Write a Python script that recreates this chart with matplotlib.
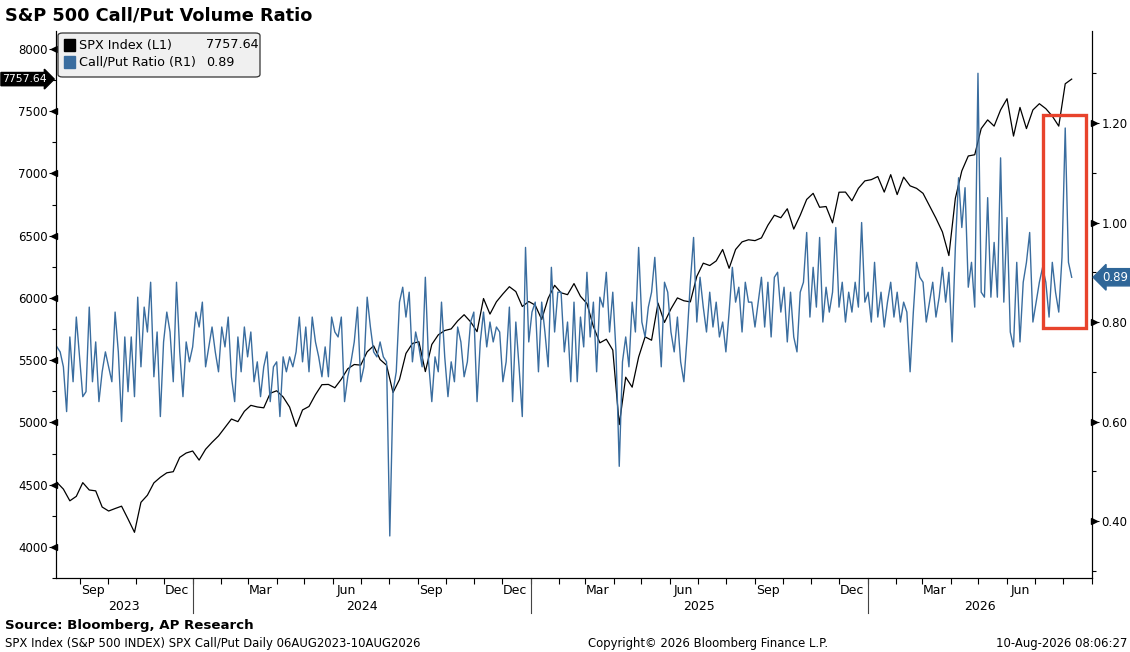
import matplotlib
matplotlib.use("Agg")
import matplotlib.pyplot as plt
import matplotlib.dates as mdates
import pandas as pd
from matplotlib.patches import Rectangle, FancyBboxPatch

# weekly SPX levels (Mondays), 07AUG2023 - 10AUG2026
spx_dates = pd.date_range("2023-08-07", "2026-08-10", freq="7D")
spx = [
    4518, 4464, 4370, 4406, 4516, 4457, 4450, 4320, 4288, 4308,
    4327, 4224, 4117, 4358, 4415, 4514, 4559, 4595, 4604, 4719,
    4754, 4770, 4697, 4784, 4840, 4891, 4959, 5027, 5006, 5089,
    5137, 5124, 5117, 5234, 5254, 5204, 5123, 4967, 5100, 5128,
    5223, 5303, 5305, 5278, 5347, 5431, 5465, 5460, 5567, 5615,
    5505, 5459, 5240, 5344, 5554, 5634, 5648, 5408, 5626, 5703,
    5738, 5751, 5815, 5865, 5808, 5729, 5995, 5870, 5969, 6032,
    6090, 6051, 5931, 5971, 5942, 5827, 5997, 6101, 6041, 6026,
    6115, 6013, 5955, 5770, 5639, 5668, 5581, 4982, 5363, 5283,
    5525, 5687, 5660, 5958, 5803, 5912, 6000, 5977, 5968, 6173,
    6279, 6260, 6297, 6389, 6238, 6389, 6450, 6467, 6460, 6482,
    6584, 6664, 6644, 6716, 6553, 6664, 6791, 6840, 6728, 6734,
    6603, 6849, 6850, 6780, 6880, 6940, 6950, 6975, 6850, 6990,
    6830, 6970, 6900, 6880, 6840, 6740, 6640, 6530, 6340, 6800,
    7020, 7140, 7150, 7360, 7430, 7380, 7510, 7600, 7300, 7530,
    7360, 7510, 7560, 7520, 7460, 7380, 7720, 7757.64,
]

# call/put volume ratio, twice a week
ratio_dates = pd.date_range("2023-08-07", periods=315, freq="84h")
ratio = [
    0.75, 0.74, 0.71, 0.62, 0.77, 0.68, 0.81, 0.73, 0.65, 0.66,
    0.83, 0.68, 0.76, 0.64, 0.70, 0.74, 0.71, 0.68, 0.82, 0.74,
    0.60, 0.77, 0.66, 0.77, 0.65, 0.85, 0.71, 0.83, 0.78, 0.88,
    0.69, 0.78, 0.61, 0.76, 0.82, 0.78, 0.68, 0.88, 0.74, 0.65,
    0.76, 0.72, 0.75, 0.82, 0.79, 0.84, 0.71, 0.75, 0.79, 0.74,
    0.70, 0.79, 0.75, 0.81, 0.69, 0.64, 0.77, 0.70, 0.79, 0.73,
    0.78, 0.68, 0.72, 0.65, 0.71, 0.74, 0.64, 0.71, 0.72, 0.61,
    0.73, 0.70, 0.73, 0.71, 0.74, 0.81, 0.72, 0.79, 0.70, 0.81,
    0.76, 0.73, 0.69, 0.75, 0.69, 0.81, 0.78, 0.77, 0.81, 0.64,
    0.69, 0.72, 0.76, 0.83, 0.68, 0.71, 0.85, 0.79, 0.74, 0.73,
    0.76, 0.73, 0.72, 0.37, 0.66, 0.70, 0.84, 0.87, 0.81, 0.86,
    0.72, 0.78, 0.75, 0.71, 0.89, 0.72, 0.64, 0.73, 0.70, 0.84,
    0.73, 0.65, 0.72, 0.68, 0.79, 0.76, 0.69, 0.72, 0.80, 0.82,
    0.64, 0.76, 0.82, 0.75, 0.80, 0.76, 0.79, 0.78, 0.68, 0.72,
    0.83, 0.64, 0.80, 0.71, 0.61, 0.95, 0.76, 0.82, 0.84, 0.70,
    0.84, 0.78, 0.71, 0.91, 0.78, 0.86, 0.86, 0.74, 0.80, 0.68,
    0.84, 0.68, 0.81, 0.75, 0.90, 0.77, 0.84, 0.70, 0.85, 0.83,
    0.90, 0.78, 0.86, 0.74, 0.51, 0.72, 0.77, 0.71, 0.84, 0.78,
    0.95, 0.80, 0.77, 0.83, 0.86, 0.93, 0.82, 0.71, 0.88, 0.86,
    0.78, 0.74, 0.81, 0.72, 0.68, 0.77, 0.88, 0.97, 0.80, 0.89,
    0.83, 0.78, 0.86, 0.79, 0.84, 0.77, 0.80, 0.74, 0.82, 0.91,
    0.84, 0.87, 0.78, 0.88, 0.84, 0.84, 0.79, 0.84, 0.89, 0.79,
    0.88, 0.77, 0.89, 0.90, 0.82, 0.87, 0.76, 0.86, 0.77, 0.74,
    0.86, 0.88, 0.98, 0.81, 0.91, 0.83, 0.97, 0.80, 0.87, 0.82,
    0.86, 0.99, 0.83, 0.88, 0.80, 0.86, 0.82, 0.88, 0.83, 1.00,
    0.84, 0.86, 0.80, 0.92, 0.81, 0.86, 0.79, 0.84, 0.88, 0.81,
    0.86, 0.80, 0.84, 0.82, 0.70, 0.82, 0.92, 0.89, 0.88, 0.80,
    0.84, 0.88, 0.81, 0.85, 0.91, 0.84, 0.90, 0.76, 0.95, 1.09,
    0.99, 1.07, 0.87, 0.92, 0.83, 1.30, 0.86, 0.85, 1.05, 0.85,
    0.96, 0.85, 1.13, 0.84, 1.01, 0.78, 0.75, 0.92, 0.76, 0.88,
    0.92, 0.98, 0.80, 0.84, 0.88, 0.91, 0.88, 0.81, 0.92, 0.86,
    0.82, 0.93, 1.19, 0.92, 0.89,
]

spx_ticks = [4000, 4500, 5000, 5500, 6000, 6500, 7000, 7500, 8000]
ratio_ticks = [0.40, 0.60, 0.80, 1.00, 1.20]
years = [2023, 2024, 2025, 2026]

W, H = 1130, 652
BLUE = "#3a6d9f"
NARROW = ["Liberation Sans Narrow", "DejaVu Sans"]

fig = plt.figure(figsize=(W / 100, H / 100), dpi=100)
ax = fig.add_axes([56 / W, 1 - 578 / H, (1092 - 56) / W, (578 - 31) / H])
ax2 = ax.twinx()

ax.plot(spx_dates, spx, color="black", lw=0.9)
ax2.plot(ratio_dates, ratio, color=BLUE, lw=1.0)

x0, x1 = pd.Timestamp("2023-08-06"), pd.Timestamp("2026-09-01")
ax.set_xlim(x0, x1)
ax.set_ylim(3768, 8144)
ax2.set_ylim(0.2855, 1.385)

for a in (ax, ax2):
    a.spines["top"].set_visible(False)

# y ticks
ax.set_yticks(spx_ticks)
ax.set_yticklabels([str(t) for t in spx_ticks], fontsize=8.5)
ax.set_yticks(range(3750, 8250, 250), minor=True)
ax.tick_params(axis="y", which="major", length=5, width=0.8, pad=1)
ax.tick_params(axis="y", which="minor", length=3, width=0.8)
ax2.set_yticks(ratio_ticks)
ax2.set_yticklabels(["%.2f" % t for t in ratio_ticks], fontsize=8.5)
ax2.set_yticks([0.3, 0.5, 0.7, 0.9, 1.1, 1.3], minor=True)
ax2.tick_params(axis="y", which="major", length=5, width=0.8, pad=2)
ax2.tick_params(axis="y", which="minor", length=3, width=0.8)
ax.plot([-0.002] * len(spx_ticks), spx_ticks, marker="<", ms=4, color="black",
        ls="none", transform=ax.get_yaxis_transform(), clip_on=False)
ax2.plot([1.002] * len(ratio_ticks), ratio_ticks, marker=">", ms=4, color="black",
         ls="none", transform=ax2.get_yaxis_transform(), clip_on=False)

# x ticks: month labels mid-month, minor ticks at month starts
ax.xaxis.set_major_locator(mdates.MonthLocator(bymonth=[3, 6, 9, 12], bymonthday=15))
ax.xaxis.set_major_formatter(mdates.DateFormatter("%b"))
ax.xaxis.set_minor_locator(mdates.MonthLocator())
ax.tick_params(axis="x", which="major", length=0, pad=4)
ax.tick_params(axis="x", which="minor", length=4, width=0.8)
for lab in ax.get_xticklabels():
    lab.set_family(NARROW)
    lab.set_fontsize(9)

xt = ax.get_xaxis_transform()
for y in years:
    start = max(pd.Timestamp(f"{y}-01-01"), x0)
    end = min(pd.Timestamp(f"{y + 1}-01-01"), x1)
    ax.text(start + (end - start) / 2, -0.052, str(y), transform=xt,
            ha="center", va="center", fontsize=9, family=NARROW)
    if y > 2023:
        ax.plot([start, start], [0, -0.064], transform=xt, color="#444444",
                lw=0.8, clip_on=False)

# last value tags
ax.text(-0.0085, spx[-1], "%.2f" % spx[-1], transform=ax.get_yaxis_transform(),
        ha="right", va="center", fontsize=7.8, color="white",
        bbox=dict(boxstyle="rarrow,pad=0.15", fc="black", ec="black"))
ax2.text(1.010, ratio[-1], "%.2f" % ratio[-1], transform=ax2.get_yaxis_transform(),
         ha="left", va="center", fontsize=8.5, color="white",
         bbox=dict(boxstyle="larrow,pad=0.18", fc="#2f6698", ec="#2f6698"))

# highlight box
d0 = mdates.date2num(pd.Timestamp("2026-07-10"))
d1 = mdates.date2num(pd.Timestamp("2026-08-25"))
ax2.add_patch(Rectangle((d0, 0.788), d1 - d0, 1.216 - 0.788, fill=False,
                        ec="#e8432c", lw=2.4, zorder=5, clip_on=False))

# legend
def px(x, y):
    return x / W, 1 - y / H

lx, ly = px(58, 77)
fig.patches.append(FancyBboxPatch((lx, ly), 202 / W, 44 / H,
                                  boxstyle="round,pad=0,rounding_size=0.004",
                                  transform=fig.transFigure, fc="#f0f0f0",
                                  ec="#333333", lw=0.9, zorder=10))
rows = [("black", "SPX Index (L1)", "%.2f" % spx[-1]),
        (BLUE, "Call/Put Ratio (R1)", "%.2f" % ratio[-1])]
for k, (c, name, val) in enumerate(rows):
    yy = 45 + 17 * k
    fig.patches.append(Rectangle(px(64, yy + 5.5), 11 / W, 11 / H, fc=c, ec=c,
                                 transform=fig.transFigure, zorder=11))
    fig.text(*px(79, yy), name, fontsize=9.2, va="center", zorder=12)
    fig.text(*px(206, yy), val, fontsize=9.2, va="center", zorder=12)

fig.text(*px(5, 15), "S&P 500 Call/Put Volume Ratio", fontsize=12.8,
         fontweight="bold", va="center")
fig.text(*px(5, 625), "Source: Bloomberg, AP Research", fontsize=9.6,
         fontweight="bold", va="center", family=NARROW)
fig.text(*px(5, 643), "SPX Index (S&P 500 INDEX) SPX Call/Put Daily 06AUG2023-10AUG2026",
         fontsize=8.4, va="center", family=NARROW)
fig.text(*px(588, 643), "Copyright\u00a9 2026 Bloomberg Finance L.P.",
         fontsize=8.4, va="center", family=NARROW)
fig.text(*px(1127, 643), "10-Aug-2026 08:06:27", fontsize=8.4, va="center",
         ha="right", family=NARROW)

fig.savefig("out.png", dpi=100)
